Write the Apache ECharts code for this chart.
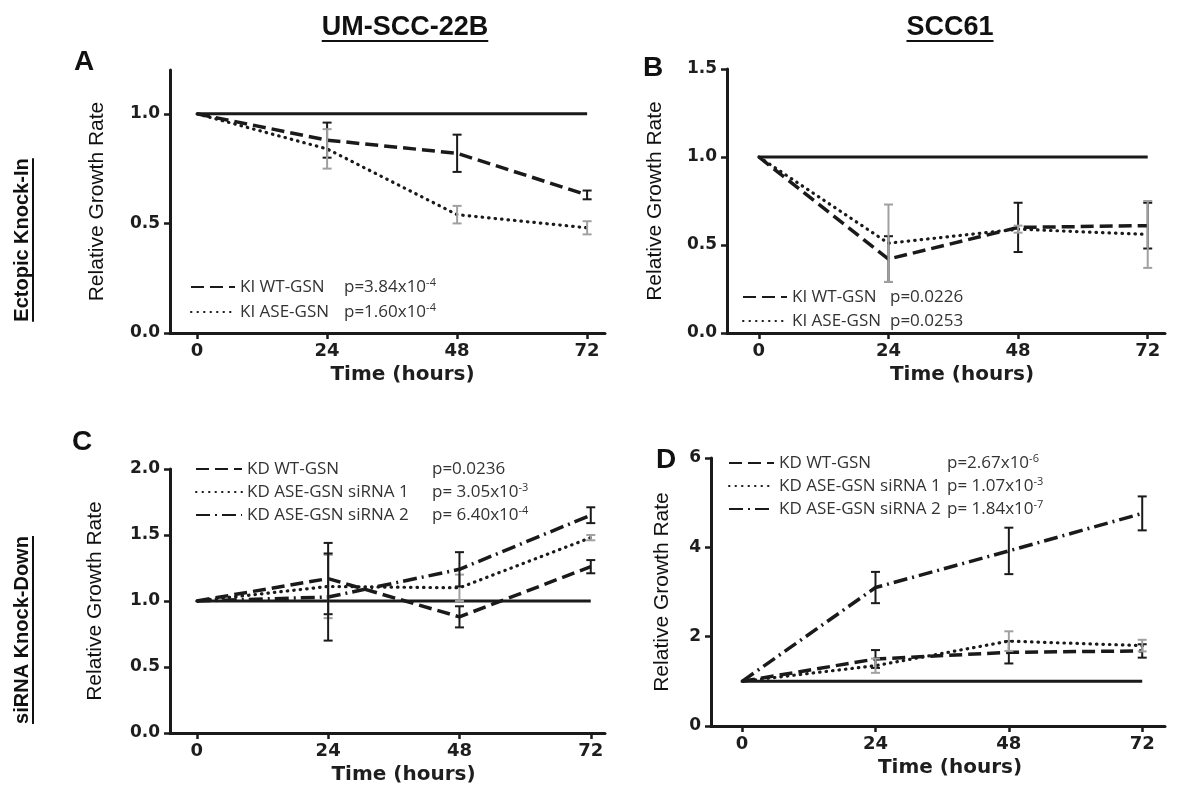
<!DOCTYPE html>
<html><head><meta charset="utf-8">
<script src="https://cdn.jsdelivr.net/npm/echarts@6/dist/echarts.min.js"></script>
<style>html,body{margin:0;padding:0;background:#fff}#c{width:1192px;height:789px}</style>
</head><body><div id="c"></div>
<script>
// ---------- data ----------
const hours = [0, 24, 48, 72];
const xTicks = [0, 24, 48, 72];
const colTitles = ['UM-SCC-22B', 'SCC61'];
const rowTitles = ['Ectopic Knock-In', 'siRNA Knock-Down'];
const panelLetters = ['A', 'B', 'C', 'D'];

// Panel A (UM-SCC-22B, knock-in)
const aControl = [1, 1, 1, 1];
const aWT = [1.0, 0.88, 0.82, 0.63];
const aWTErr = [0, 0.08, 0.085, 0.02];
const aASE = [1.0, 0.84, 0.54, 0.48];
const aASEErr = [0, 0.09, 0.04, 0.03];
const aYTicks = [0, 0.5, 1.0];
const aLegend = [['KI WT-GSN', 'p=3.84x10', '-4'], ['KI ASE-GSN', 'p=1.60x10', '-4']];

// Panel B (SCC61, knock-in)
const bControl = [1, 1, 1, 1];
const bWT = [1.0, 0.42, 0.60, 0.61];
const bWTErr = [0, 0.13, 0.14, 0.13];
const bASE = [1.0, 0.51, 0.59, 0.56];
const bASEErr = [0, 0.22, 0.02, 0.19];
const bYTicks = [0, 0.5, 1.0, 1.5];
const bLegend = [['KI WT-GSN', 'p=0.0226', ''], ['KI ASE-GSN', 'p=0.0253', '']];

// Panel C (UM-SCC-22B, knock-down)
const cControl = [1, 1, 1, 1];
const cWT = [1.0, 1.17, 0.88, 1.26];
const cWTErr = [0, 0.27, 0.08, 0.05];
const cSi1 = [1.0, 1.11, 1.10, 1.48];
const cSi1Err = [0, 0.24, 0.10, 0.02];
const cSi2 = [1.0, 1.03, 1.24, 1.65];
const cSi2Err = [0, 0.33, 0.13, 0.06];
const cYTicks = [0, 0.5, 1.0, 1.5, 2.0];
const cLegend = [['KD WT-GSN', 'p=0.0236', ''], ['KD ASE-GSN siRNA 1', 'p= 3.05x10', '-3'], ['KD ASE-GSN siRNA 2', 'p= 6.40x10', '-4']];

// Panel D (SCC61, knock-down)
const dControl = [1, 1, 1, 1];
const dWT = [1.0, 1.50, 1.65, 1.68];
const dWTErr = [0, 0.20, 0.25, 0.15];
const dSi1 = [1.0, 1.35, 1.90, 1.80];
const dSi1Err = [0, 0.16, 0.22, 0.13];
const dSi2 = [1.0, 3.10, 3.92, 4.76];
const dSi2Err = [0, 0.35, 0.52, 0.38];
const dYTicks = [0, 2, 4, 6];
const dLegend = [['KD WT-GSN', 'p=2.67x10', '-6'], ['KD ASE-GSN siRNA 1', 'p= 1.07x10', '-3'], ['KD ASE-GSN siRNA 2', 'p= 1.84x10', '-7']];

// ---------- styling ----------
const INK = '#1a1a1a';
const GRAY = '#a0a0a0';
const DASH = [13, 6];
const DOT = [0.5, 6];
const DASHDOT = [14, 5, 2, 5];
const SANS = '"Liberation Sans", Arial, sans-serif';
const DJ = '"DejaVu Sans", sans-serif';
const LEG = '"Open Sans", sans-serif';
const TITLE = '"Liberation Sans Narrow", "Liberation Sans", sans-serif';

function pts(vals) { return hours.map((h, i) => [h, vals[i]]); }
function line(name, vals, idx, dash, width) {
  return {
    type: 'line', name: name, xAxisIndex: idx, yAxisIndex: idx, data: pts(vals),
    symbol: 'none', showSymbol: false, silent: true, animation: false,
    lineStyle: { color: INK, width: width || 3.5, type: dash, cap: dash === DOT ? 'round' : 'butt' },
    itemStyle: { color: INK }, z: 3
  };
}
function err(vals, errs, idx, color) {
  const d = [];
  hours.forEach((h, i) => { if (errs[i] > 0) d.push([h, vals[i] - errs[i], vals[i] + errs[i]]); });
  return {
    type: 'custom', xAxisIndex: idx, yAxisIndex: idx, data: d, silent: true, animation: false, z: 4,
    renderItem: function (params, api) {
      const lo = api.coord([api.value(0), api.value(1)]);
      const hi = api.coord([api.value(0), api.value(2)]);
      const w = 4.5;
      const st = { stroke: color, lineWidth: 2 };
      return { type: 'group', children: [
        { type: 'line', shape: { x1: lo[0], y1: lo[1], x2: hi[0], y2: hi[1] }, style: st },
        { type: 'line', shape: { x1: lo[0] - w, y1: lo[1], x2: lo[0] + w, y2: lo[1] }, style: st },
        { type: 'line', shape: { x1: hi[0] - w, y1: hi[1], x2: hi[0] + w, y2: hi[1] }, style: st }
      ] };
    }
  };
}

const grids = [
  { left: 170, top: 70, width: 435, height: 263 },
  { left: 727, top: 69, width: 438, height: 264 },
  { left: 170, top: 469, width: 435, height: 264 },
  { left: 711, top: 458, width: 454, height: 268 }
];
const xRanges = [[-5, 75.3], [-5.9, 75.2], [-4.9, 74.6], [-5.6, 76.1]];
const yRanges = [[0, 1.2], [0, 1.5], [0, 2.0], [0, 6]];
const yTickSets = [aYTicks, bYTicks, cYTicks, dYTicks];
const yNameGaps = [62, 61, 64, 38];
const xNamePad = [30, 32, 32, 24];
const yFmt = [v => v.toFixed(1), v => v.toFixed(1), v => v.toFixed(1), v => String(v)];

const xAxes = grids.map((g, i) => ({
  type: 'value', gridIndex: i, min: xRanges[i][0], max: xRanges[i][1],
  axisLine: { onZero: false, lineStyle: { color: INK, width: 3 } },
  axisTick: { customValues: xTicks, length: 6, lineStyle: { color: INK, width: 2.5 } },
  axisLabel: { customValues: xTicks, margin: 9, color: '#1e1e1e', fontFamily: DJ, fontWeight: 'bold', fontSize: 18 },
  splitLine: { show: false },
  name: 'Time (hours)', nameLocation: 'middle', nameGap: 32,
  nameTextStyle: { color: '#1e1e1e', fontFamily: DJ, fontWeight: 'bold', fontSize: 20, padding: [0, 0, 0, xNamePad[i]] }
}));
const yAxes = grids.map((g, i) => ({
  type: 'value', gridIndex: i, min: yRanges[i][0], max: yRanges[i][1],
  axisLine: { onZero: false, lineStyle: { color: INK, width: 3 } },
  axisTick: { customValues: yTickSets[i], length: 6, lineStyle: { color: INK, width: 2.5 } },
  axisLabel: { customValues: yTickSets[i], margin: 10, color: '#1e1e1e', fontFamily: DJ, fontWeight: 'bold', fontSize: 17, formatter: yFmt[i] },
  splitLine: { show: false },
  name: 'Relative Growth Rate', nameLocation: 'middle', nameGap: yNameGaps[i],
  nameTextStyle: { color: '#111', fontFamily: SANS, fontSize: 21 }
}));

function legendCfg(ids, labels, left, top, itemWidth, gap, colW) {
  const map = {};
  ids.forEach((id, k) => map[id] = labels[k]);
  return {
    data: ids, left: left, top: top, orient: 'vertical', padding: 0,
    itemWidth: itemWidth, itemHeight: 14, itemGap: gap, selectedMode: false,
    itemStyle: { opacity: 0 },
    formatter: id => {
      const l = map[id];
      return '{n|' + l[0] + '}{p|' + l[1] + '}' + (l[2] ? '{s|' + l[2] + '}' : '');
    },
    textStyle: {
      fontFamily: LEG, fontSize: 17, color: '#333', lineHeight: 20,
      rich: {
        n: { fontFamily: LEG, fontSize: 17, color: '#333', width: colW, lineHeight: 20 },
        p: { fontFamily: LEG, fontSize: 17, color: '#333', lineHeight: 20 },
        s: { fontFamily: LEG, fontSize: 11, color: '#333', lineHeight: 20, verticalAlign: 'top', padding: [0, 0, 8, 0] }
      }
    }
  };
}

const series = [
  line('A-control', aControl, 0, 'solid', 3),
  line('A-WT', aWT, 0, DASH), line('A-ASE', aASE, 0, DOT, 3.2),
  err(aWT, aWTErr, 0, INK), err(aASE, aASEErr, 0, GRAY),

  line('B-control', bControl, 1, 'solid', 3),
  line('B-WT', bWT, 1, DASH), line('B-ASE', bASE, 1, DOT, 3.2),
  err(bWT, bWTErr, 1, INK), err(bASE, bASEErr, 1, GRAY),

  line('C-control', cControl, 2, 'solid', 3),
  line('C-WT', cWT, 2, DASH), line('C-S1', cSi1, 2, DOT, 3.2), line('C-S2', cSi2, 2, DASHDOT),
  err(cWT, cWTErr, 2, INK), err(cSi1, cSi1Err, 2, GRAY), err(cSi2, cSi2Err, 2, INK),

  line('D-control', dControl, 3, 'solid', 3),
  line('D-WT', dWT, 3, DASH), line('D-S1', dSi1, 3, DOT, 3.2), line('D-S2', dSi2, 3, DASHDOT),
  err(dWT, dWTErr, 3, INK), err(dSi1, dSi1Err, 3, GRAY), err(dSi2, dSi2Err, 3, INK)
];

// text width helper for underlines
const mc = document.createElement('canvas').getContext('2d');
function tw(text, font) { mc.font = font; return mc.measureText(text).width; }
const tFont = 'bold 27px ' + TITLE;
const rFont = 'bold 20px ' + TITLE;

function colTitle(text, cx, cy) {
  const w = tw(text, tFont);
  return { type: 'group', x: cx, y: cy, silent: true, children: [
    { type: 'text', style: { text: text, font: tFont, fill: '#111', align: 'center', verticalAlign: 'middle' } },
    { type: 'line', shape: { x1: -w / 2, y1: 13, x2: w / 2, y2: 13 }, style: { stroke: '#111', lineWidth: 2 } }
  ] };
}
function rowTitle(text, cx, cy) {
  const w = tw(text, rFont);
  return { type: 'group', x: cx, y: cy, rotation: Math.PI / 2, silent: true, children: [
    { type: 'text', style: { text: text, font: rFont, fill: '#111', align: 'center', verticalAlign: 'middle' } },
    { type: 'line', shape: { x1: -w / 2, y1: 11, x2: w / 2, y2: 11 }, style: { stroke: '#111', lineWidth: 2 } }
  ] };
}
function letter(t, x, y) {
  return { type: 'text', x: x, y: y, silent: true, style: { text: t, font: 'bold 28px ' + SANS, fill: '#111', align: 'center', verticalAlign: 'middle' } };
}

const option = {
  backgroundColor: '#ffffff',
  animation: false,
  grid: grids,
  xAxis: xAxes,
  yAxis: yAxes,
  legend: [
    legendCfg(['A-WT', 'A-ASE'], aLegend, 190, 277, 44, 5, 104),
    legendCfg(['B-WT', 'B-ASE'], bLegend, 742, 287, 44, 4, 98),
    legendCfg(['C-WT', 'C-S1', 'C-S2'], cLegend, 195, 459, 46, 3, 185),
    legendCfg(['D-WT', 'D-S1', 'D-S2'], dLegend, 728, 453, 45, 3, 168)
  ],
  series: series,
  graphic: [
    colTitle(colTitles[0], 405, 28),
    colTitle(colTitles[1], 950, 28),
    rowTitle(rowTitles[0], 22, 240),
    rowTitle(rowTitles[1], 22, 630),
    letter(panelLetters[0], 84, 62),
    letter(panelLetters[1], 653, 68),
    letter(panelLetters[2], 82, 442),
    letter(panelLetters[3], 666, 460)
  ]
};
const chart = echarts.init(document.getElementById('c'));
chart.setOption(option);
</script>
</body></html>
